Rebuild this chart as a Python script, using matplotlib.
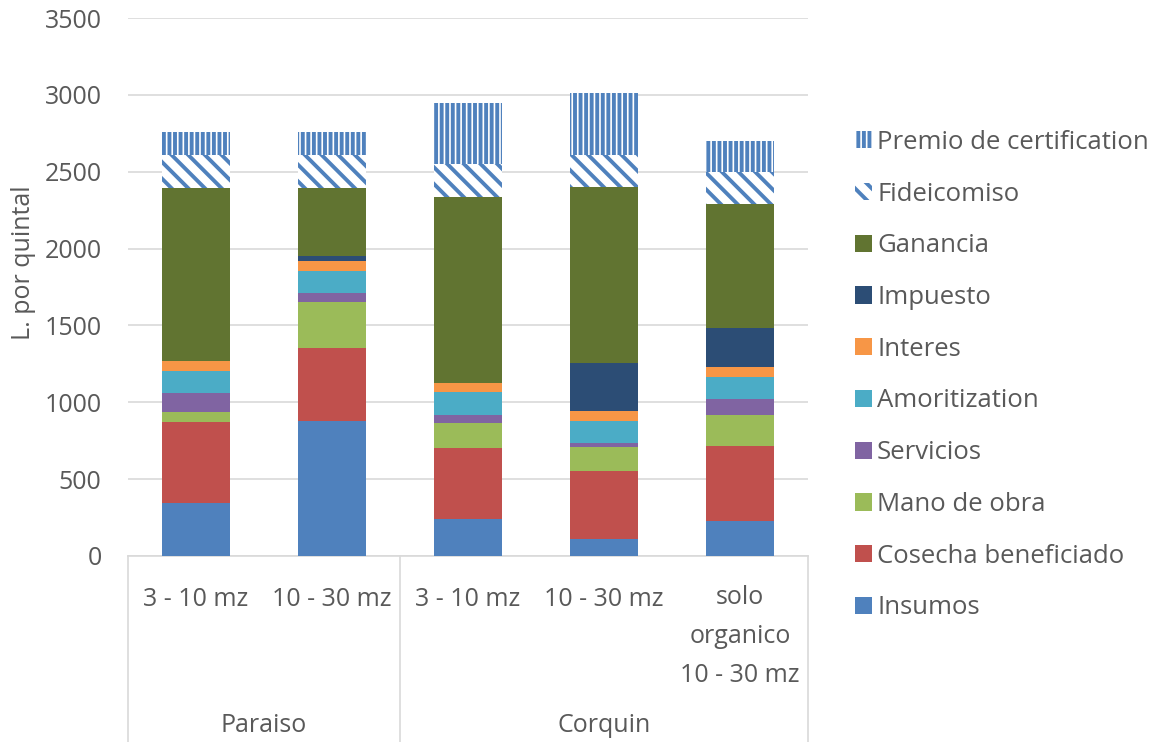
import matplotlib.pyplot as plt
import numpy as np

# data (L. por quintal)
groups = ['Paraiso', 'Corquin']
subcats = ['3 - 10 mz', '10 - 30 mz', '3 - 10 mz', '10 - 30 mz', 'solo\norganico\n10 - 30 mz']
group_sizes = [2, 3]

insumos = [343, 878, 239, 108, 228]
cosecha = [531, 477, 466, 447, 488]
mano_obra = [65, 295, 162, 152, 201]
servicios = [119, 59, 50, 26, 102]
amortizacion = [148, 147, 152, 147, 148]
interes = [65, 61, 59, 61, 61]
impuesto = [0, 37, 0, 313, 257]
ganancia = [1125, 442, 1210, 1145, 803]
fideicomiso = [213, 213, 212, 210, 212]
premio = [152, 152, 399, 401, 200]

series = [
    ('Insumos', insumos, '#4F81BD', None),
    ('Cosecha beneficiado', cosecha, '#C0504D', None),
    ('Mano de obra', mano_obra, '#9BBB59', None),
    ('Servicios', servicios, '#8064A2', None),
    ('Amoritization', amortizacion, '#4BACC6', None),
    ('Interes', interes, '#F79646', None),
    ('Impuesto', impuesto, '#2C4D75', None),
    ('Ganancia', ganancia, '#617431', None),
    ('Fideicomiso', fideicomiso, '#4F81BD', '\\\\'),
    ('Premio de certification', premio, '#4F81BD', '|||'),
]

text_col = '#595959'
grid_col = '#D9D9D9'
fs = 18

plt.rcParams['font.family'] = ['Open Sans', 'DejaVu Sans']
plt.rcParams['font.size'] = fs
plt.rcParams['hatch.linewidth'] = 2.8

fig = plt.figure(figsize=(11.5, 7.42), dpi=100)
ax = fig.add_axes([0.1113, 0.2507, 0.5913, 0.7250])

x = np.arange(len(subcats))
bottom = np.zeros(len(subcats))
handles = []
for name, vals, col, hatch in series:
    vals = np.array(vals, dtype=float)
    if hatch is None:
        b = ax.bar(x, vals, 0.5, bottom=bottom, color=col, label=name, linewidth=0, zorder=3)
    else:
        b = ax.bar(x, vals, 0.5, bottom=bottom, facecolor='white', edgecolor=col,
                   hatch=hatch, label=name, linewidth=0, zorder=3)
    handles.append(b)
    bottom += vals

ax.set_xlim(-0.5, len(subcats) - 0.5)
ax.set_ylim(0, 3500)
ax.set_yticks(np.arange(0, 3501, 500))
ax.yaxis.grid(True, color=grid_col, linewidth=1.2, zorder=0)
ax.set_axisbelow(True)
for s in ['top', 'right', 'left']:
    ax.spines[s].set_visible(False)
ax.spines['bottom'].set_color(grid_col)
ax.spines['bottom'].set_linewidth(1.2)
ax.tick_params(axis='y', length=0, pad=19, colors=text_col, labelsize=fs)
ax.set_xticks([])
ax.set_ylabel('L. por quintal', color=text_col, fontsize=fs)
ax.yaxis.set_label_coords(-0.136, 0.545)

# category labels (two levels)
trans = ax.get_xaxis_transform()
for xi, lab in zip(x, subcats):
    nlines = lab.count('\n') + 1
    ypos = -0.081 if nlines == 1 else -0.149
    ax.text(xi, ypos, lab, transform=trans, ha='center', va='center',
            color=text_col, fontsize=fs, linespacing=1.74, multialignment='center')
edges = [-0.5]
for g in group_sizes:
    edges.append(edges[-1] + g)
for i, g in enumerate(groups):
    ax.text((edges[i] + edges[i + 1]) / 2, -0.316, g, transform=trans, ha='center', va='center',
            color=text_col, fontsize=fs)
for e in edges:
    ax.plot([e, e], [0, -0.35], transform=trans, color=grid_col, linewidth=1.2, clip_on=False)

leg = ax.legend(handles[::-1], [s[0] for s in series][::-1], loc='upper left',
                bbox_to_anchor=(0.7435, 0.825), bbox_transform=fig.transFigure,
                frameon=False, fontsize=18.5, handlelength=0.66, handleheight=0.66,
                handletextpad=0.2, labelspacing=1.04, borderaxespad=0, borderpad=0)
for t in leg.get_texts():
    t.set_color(text_col)

fig.savefig('out.png', dpi=100)
